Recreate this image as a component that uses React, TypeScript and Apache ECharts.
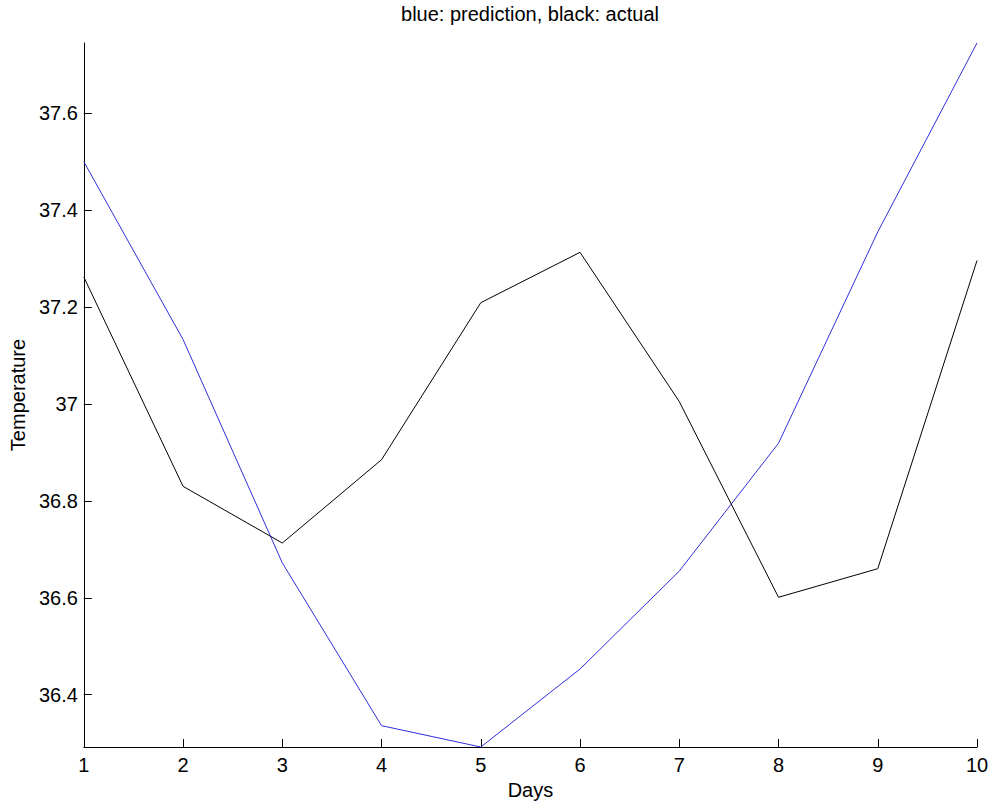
import React, { useEffect, useRef } from "react";
import * as echarts from "echarts";

const days = [1, 2, 3, 4, 5, 6, 7, 8, 9, 10];
const prediction = [37.5, 37.133, 36.672, 36.336, 36.292, 36.453, 36.655, 36.919, 37.355, 37.745];
const actual = [37.262, 36.83, 36.713, 36.885, 37.209, 37.313, 37.005, 36.601, 36.66, 37.296];
const yTicks = [36.4, 36.6, 36.8, 37, 37.2, 37.4, 37.6];
const titleText = "blue: prediction, black: actual";

const FONT = "'Liberation Sans', Arial, sans-serif";

export default function App() {
  const ref = useRef<HTMLDivElement>(null);
  useEffect(() => {
    document.body.style.margin = "0";
    const chart = echarts.init(ref.current!, null, { renderer: "svg" });
    const axisCommon = {
      axisLine: { show: true, lineStyle: { color: "#000", width: 1 } },
      axisTick: { show: true, inside: true, length: 8, lineStyle: { color: "#000" } },
      splitLine: { show: false },
      axisLabel: { color: "#000", fontSize: 20, fontFamily: FONT },
      nameTextStyle: { color: "#000", fontSize: 20, fontFamily: FONT },
    };
    chart.setOption({
      animation: false,
      backgroundColor: "#fff",
      textStyle: { fontFamily: FONT },
      grid: { left: 83, right: 16, top: 43, bottom: 58, containLabel: false },
      graphic: [
        {
          type: "text",
          x: 530,
          y: 14,
          style: {
            text: titleText,
            fill: "#000",
            fontSize: 20,
            fontFamily: FONT,
            textAlign: "center",
            textVerticalAlign: "middle",
          },
        },
      ],
      xAxis: {
        type: "value",
        min: 1,
        max: 10,
        interval: 1,
        name: "Days",
        nameLocation: "middle",
        nameGap: 32,
        ...axisCommon,
        axisLabel: { ...axisCommon.axisLabel, margin: 8 },
      },
      yAxis: {
        type: "value",
        min: "dataMin",
        max: "dataMax",
        name: "Temperature",
        nameLocation: "middle",
        nameGap: 52,
        ...axisCommon,
        axisTick: { ...axisCommon.axisTick, customValues: yTicks },
        axisLabel: { ...axisCommon.axisLabel, margin: 6, customValues: yTicks },
      },
      series: [
        {
          type: "line",
          data: days.map((d, i) => [d, prediction[i]]),
          showSymbol: false,
          symbol: "none",
          lineStyle: { color: "#3030d8", width: 1 },
          itemStyle: { color: "#3030d8" },
        },
        {
          type: "line",
          data: days.map((d, i) => [d, actual[i]]),
          showSymbol: false,
          symbol: "none",
          lineStyle: { color: "#000", width: 1 },
          itemStyle: { color: "#000" },
        },
      ],
    });
    return () => chart.dispose();
  }, []);
  return <div ref={ref} style={{ width: 993, height: 805 }} />;
}
